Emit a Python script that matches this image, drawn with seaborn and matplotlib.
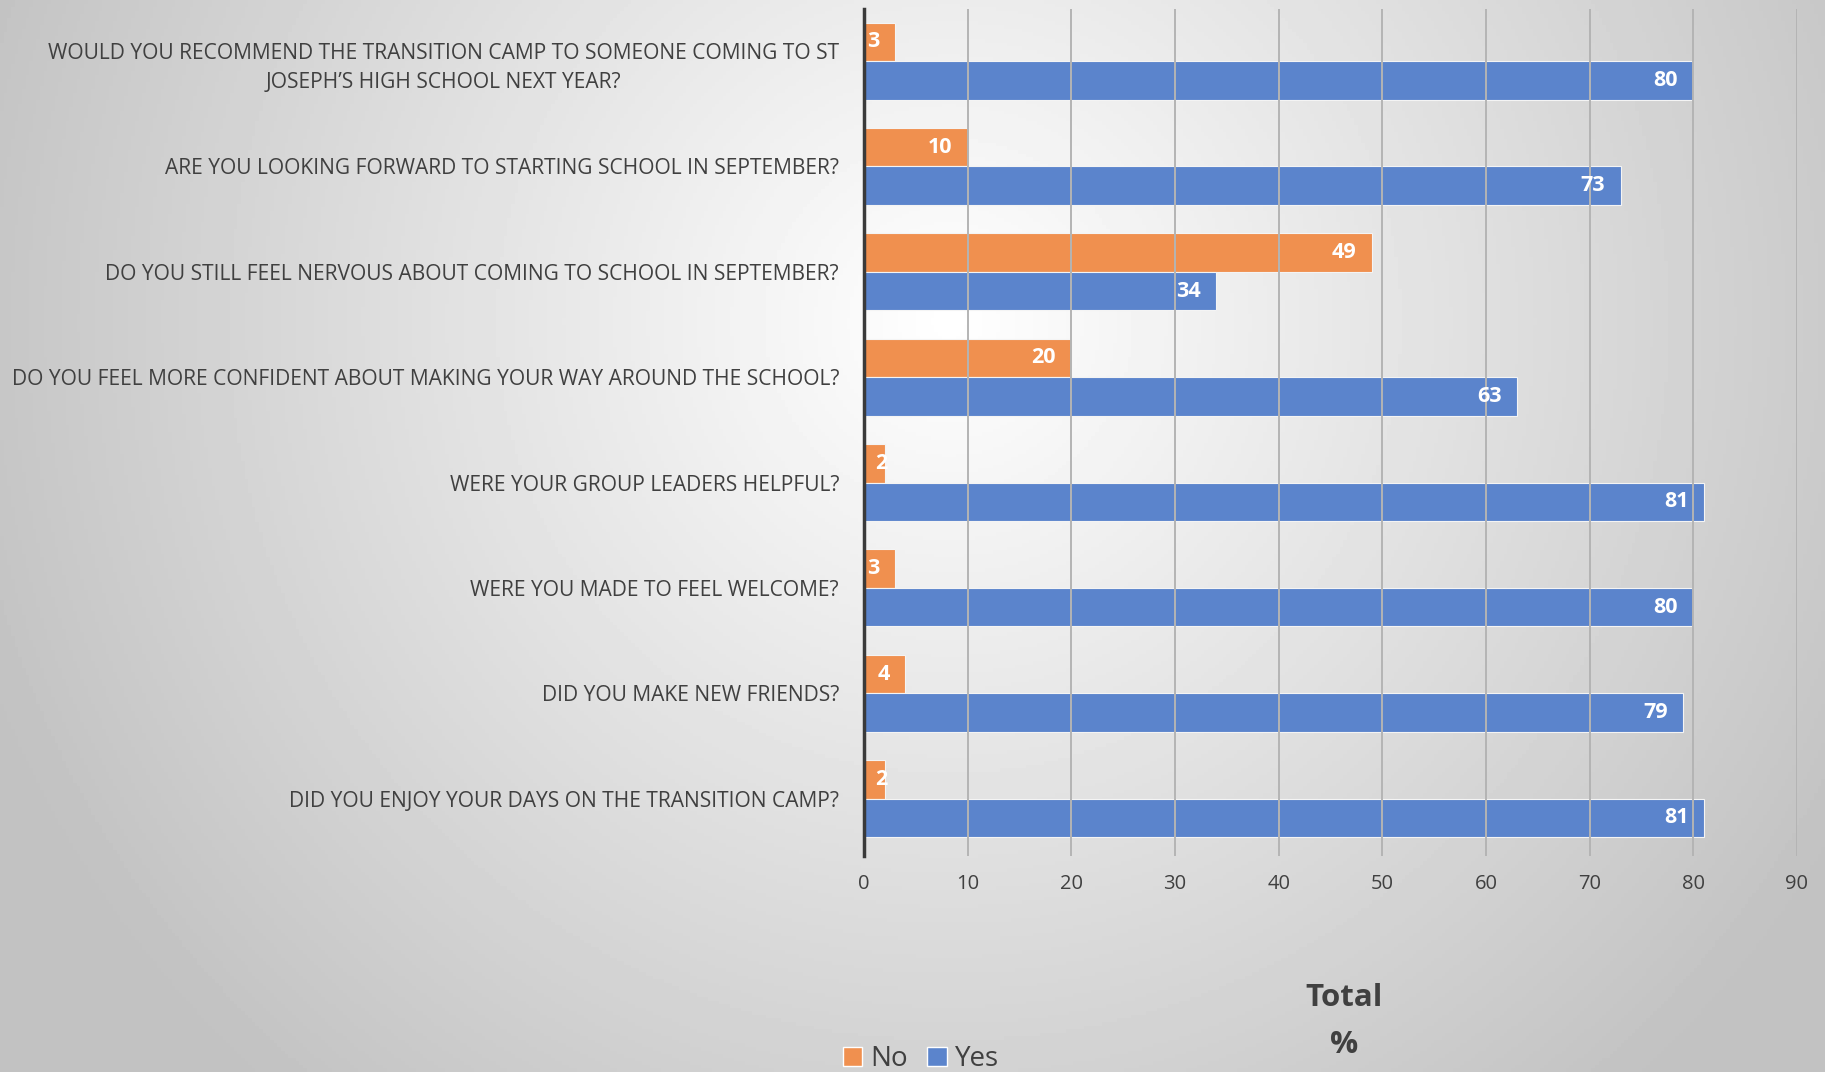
import numpy as np
import pandas as pd
import matplotlib
matplotlib.use("Agg")
import matplotlib.pyplot as plt
import seaborn as sns
from matplotlib.patches import Patch

questions = [
    "WOULD YOU RECOMMEND THE TRANSITION CAMP TO SOMEONE COMING TO ST\nJOSEPH\u2019S HIGH SCHOOL NEXT YEAR?",
    "ARE YOU LOOKING FORWARD TO STARTING SCHOOL IN SEPTEMBER?",
    "DO YOU STILL FEEL NERVOUS ABOUT COMING TO SCHOOL IN SEPTEMBER?",
    "DO YOU FEEL MORE CONFIDENT ABOUT MAKING YOUR WAY AROUND THE SCHOOL?",
    "WERE YOUR GROUP LEADERS HELPFUL?",
    "WERE YOU MADE TO FEEL WELCOME?",
    "DID YOU MAKE NEW FRIENDS?",
    "DID YOU ENJOY YOUR DAYS ON THE TRANSITION CAMP?",
]
no_values = [3, 10, 49, 20, 2, 3, 4, 2]
yes_values = [80, 73, 34, 63, 81, 80, 79, 81]
series_names = ["No", "Yes"]
x_ticks = [0, 10, 20, 30, 40, 50, 60, 70, 80, 90]

colors = {"No": "#F0904F", "Yes": "#5B84CC"}

df = pd.DataFrame({
    "question": questions * 2,
    "series": ["No"] * len(questions) + ["Yes"] * len(questions),
    "value": no_values + yes_values,
})

sns.set_theme(style="white")
plt.rcParams["font.family"] = ["Open Sans", "DejaVu Sans"]

W, H = 1825, 1072
fig = plt.figure(figsize=(W / 100, H / 100), dpi=100)

# background radial gradient
bg = fig.add_axes([0, 0, 1, 1], zorder=-10)
yy, xx = np.mgrid[0:1:300j, 0:1:500j]
cx, cy = 0.52, 0.30
d = np.sqrt(((xx - cx) * 1.7) ** 2 + (yy - cy) ** 2)
val = np.clip(1.0 - 0.25 * d, 0.76, 1.0)
bg.imshow(val, cmap="gray", vmin=0, vmax=1, extent=[0, 1, 1, 0], aspect="auto", origin="upper")
bg.set_axis_off()

ax = fig.add_axes([864 / W, 1 - 856 / H, (1797 - 864) / W, (856 - 9) / H])
ax.patch.set_alpha(0)

sns.barplot(data=df, y="question", x="value", hue="series", hue_order=series_names,
            order=questions, orient="h", palette=colors, width=0.73, saturation=1,
            edgecolor="#F4F4F4", linewidth=0.8, ax=ax, legend=False, zorder=2)

for bars in ax.containers:
    for rect, v in zip(bars.patches, bars.datavalues):
        x_end = rect.get_x() + rect.get_width()
        yc = rect.get_y() + rect.get_height() / 2
        off = -11 if rect.get_width() > 2.5 else 2
        ax.annotate(f"{v:.0f}", xy=(x_end, yc), xytext=(off, 0), textcoords="offset points",
                    ha="right", va="center", color="white", fontsize=15.5,
                    fontweight="bold", zorder=5, annotation_clip=False)

ax.set_xlim(0, 90)
ax.set_ylim(7.545, -0.495)
ax.set_xticks(x_ticks)
ax.set_xticklabels([str(t) for t in x_ticks], fontsize=14.5, color="#404040")
ax.tick_params(axis="x", length=0, pad=13)
ax.tick_params(axis="y", length=0, pad=18)
for lab in ax.get_yticklabels():
    lab.set_fontsize(15.1)
    lab.set_color("#404040")
    lab.set_multialignment("center")
    lab.set_linespacing(1.5)
ax.set_xlabel("")
ax.set_ylabel("")
ax.xaxis.grid(True, color="#B4B4B4", linewidth=1.4, zorder=3)
ax.set_axisbelow(False)
for s in ["top", "right", "bottom"]:
    ax.spines[s].set_visible(False)
ax.spines["left"].set_color("#3A3A3A")
ax.spines["left"].set_linewidth(2.5)
ax.spines["left"].set_zorder(6)

fig.text(1344 / W, 1 - 998 / H, "Total", fontsize=22.5, fontweight="bold", color="#404040",
         ha="center", va="center")
fig.text(1344 / W, 1 - 1045 / H, "%", fontsize=22.5, fontweight="bold", color="#404040",
         ha="center", va="center")

handles = [Patch(facecolor=colors[n], edgecolor="white", label=n) for n in series_names]
fig.legend(handles=handles, loc="center", bbox_to_anchor=(921 / W, 1 - 1059 / H), ncol=2,
           frameon=False, fontsize=20, handlelength=0.7, handleheight=0.7,
           handletextpad=0.3, columnspacing=0.7, labelcolor="#404040")

fig.savefig("out.png", dpi=100)
